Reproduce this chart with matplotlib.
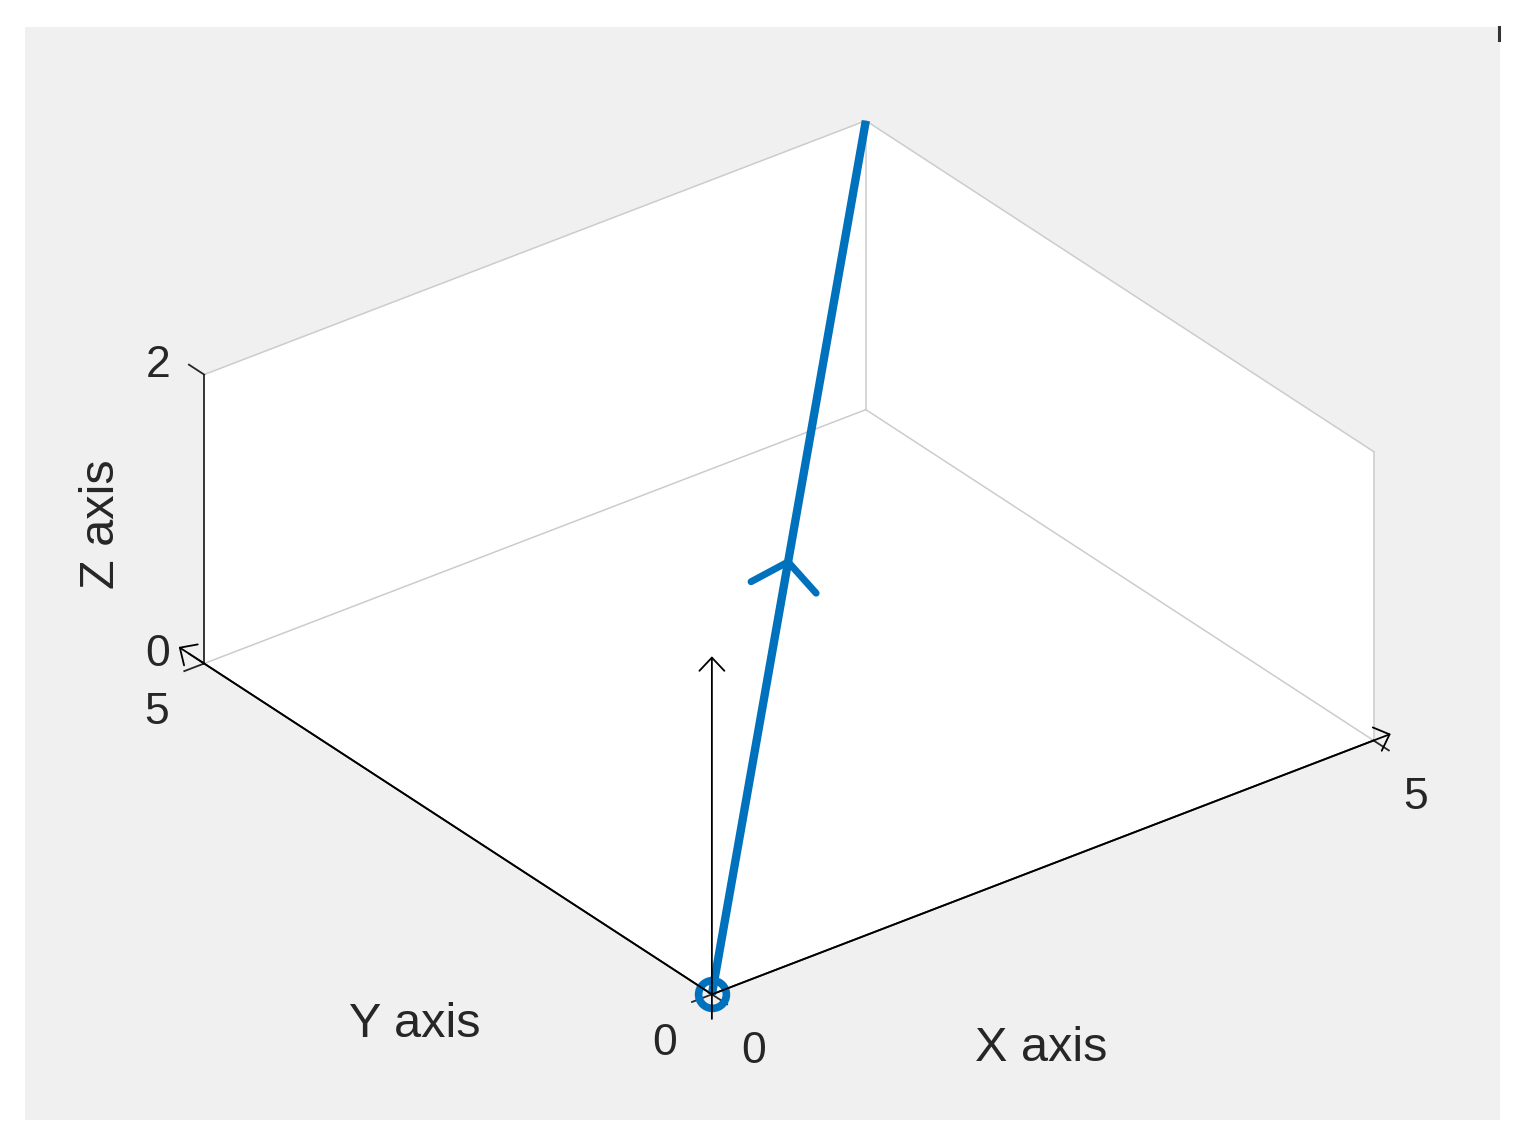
import numpy as np
import matplotlib
matplotlib.use('Agg')
import matplotlib.pyplot as plt
from matplotlib.patches import FancyArrowPatch, Rectangle
from matplotlib.lines import Line2D
from mpl_toolkits.mplot3d import proj3d
from mpl_toolkits.mplot3d.art3d import Poly3DCollection

plt.rcParams['font.family'] = ['Liberation Sans', 'DejaVu Sans']

# ---- data ----
vec = [5, 5, 2]                 # blue vector drawn from the origin
x_lim = [0, 5]
y_lim = [0, 5]
z_lim = [0, 2]
x_ticks = [0, 5]
y_ticks = [0, 5]
z_ticks = [0, 2]
x_arrow = [0, 5.13]             # black coordinate arrows
y_arrow = [0, 5.25]
z_arrow = [-0.17, 2.34]

blue = '#0072BD'
dark = '#262626'
box_gray = '#cccccc'
tick_len = 0.15


class Arrow3D(FancyArrowPatch):
    def __init__(self, xs, ys, zs, *args, **kwargs):
        super().__init__((0, 0), (0, 0), *args, **kwargs)
        self._verts3d = xs, ys, zs

    def do_3d_projection(self, renderer=None):
        xs3d, ys3d, zs3d = self._verts3d
        xs, ys, zs = proj3d.proj_transform(xs3d, ys3d, zs3d, self.axes.M)
        self.set_positions((xs[0], ys[0]), (xs[1], ys[1]))
        return np.min(zs)


W, H = 1529, 1145
fig = plt.figure(figsize=(W / 100, H / 100), dpi=100, facecolor='white')
fig.add_artist(Rectangle((25 / W, 25 / H), 1475 / W, 1093 / H,
                         transform=fig.transFigure, facecolor='#f0f0f0',
                         edgecolor='none', zorder=-10))
fig.add_artist(Line2D([1498.5 / W, 1498.5 / W], [(H - 27) / H, (H - 40) / H],
                      transform=fig.transFigure, color='#333333', lw=2.2))

S = 1100
ax = fig.add_axes([224 / W, 22.6 / H, S / W, S / H], projection='3d',
                  proj_type='ortho', computed_zorder=False)
ax.view_init(elev=30, azim=-127.5)
ax.set_box_aspect((5, 5, 2), zoom=1.0818)
ax.set_axis_off()
ax.set_facecolor('none')
# the built-in 3D axes texts are not used
for t in [ax.title, ax._left_title, ax._right_title]:
    t.set_visible(False)
for a in [ax.xaxis, ax.yaxis, ax.zaxis]:
    a.label.set_visible(False)
    a.offsetText.set_visible(False)

x0, x1 = x_lim
y0, y1 = y_lim
z0, z1 = z_lim

# white back panes
panes = [
    [(x0, y1, z0), (x1, y1, z0), (x1, y1, z1), (x0, y1, z1)],
    [(x1, y0, z0), (x1, y1, z0), (x1, y1, z1), (x1, y0, z1)],
    [(x0, y0, z0), (x1, y0, z0), (x1, y1, z0), (x0, y1, z0)],
]
pc = Poly3DCollection(panes, facecolor='white', edgecolor='none', zorder=0)
pc.set_clip_on(False)
ax.add_collection3d(pc)

# light box edges
edges = [
    ((x0, x1), (y1, y1), (z1, z1)),
    ((x1, x1), (y0, y1), (z1, z1)),
    ((x1, x1), (y1, y1), (z0, z1)),
    ((x1, x1), (y0, y0), (z0, z1)),
    ((x0, x1), (y1, y1), (z0, z0)),
    ((x1, x1), (y0, y1), (z0, z0)),
]
for ex, ey, ez in edges:
    ax.plot(ex, ey, ez, color=box_gray, lw=1.1, zorder=1, clip_on=False)

# rulers
ax.plot([x0, x1], [y0, y0], [z0, z0], color=dark, lw=1.3, zorder=2, clip_on=False)
ax.plot([x0, x0], [y0, y1], [z0, z0], color=dark, lw=1.3, zorder=2, clip_on=False)
ax.plot([x0, x0], [y1, y1], [z0, z1], color=dark, lw=1.3, zorder=2, clip_on=False)

# ticks and tick labels
for t in x_ticks:
    ax.plot([t, t], [y0, y0 - tick_len], [z0, z0], color=dark, lw=1.3,
            zorder=2, clip_on=False)
    ax.text(t - 0.03, y0 - 0.45, z0 - 0.18, str(t), fontsize=32, color=dark,
            ha='center', va='center')
for t in y_ticks:
    ax.plot([x0, x0 - tick_len], [t, t], [z0, z0], color=dark, lw=1.3,
            zorder=2, clip_on=False)
    ax.text(x0 - 0.34, t + 0.02, z0 - 0.23, str(t), fontsize=32, color=dark,
            ha='center', va='center')
for t in z_ticks:
    ax.plot([x0, x0], [y1, y1 + tick_len], [t, t], color=dark, lw=1.3,
            zorder=2, clip_on=False)
    ax.text(x0 - 0.12, y1 + 0.3, t - 0.03, str(t), fontsize=32, color=dark,
            ha='center', va='center')

# axis labels
ax.text(1.72, -1.0, -0.52, 'X axis', fontsize=35, color=dark, ha='center', va='center')
ax.text(-1.0, 1.62, -0.6, 'Y axis', fontsize=35, color=dark, ha='center', va='center')
ax.text(0, 6.01, 0.5, 'Z axis', zdir='z', fontsize=35, color=dark, ha='center', va='center')

# blue vector, origin marker and mid-point arrow head
ax.plot([0, vec[0]], [0, vec[1]], [0, vec[2]], color=blue, lw=6,
        solid_capstyle='butt', zorder=3, clip_on=False)
ax.plot([0], [0], [0], marker='o', ms=20, mfc='none', mec=blue, mew=5.5,
        zorder=3, clip_on=False)
mid_a = [0.4 * v for v in vec]
mid_b = [0.5 * v for v in vec]
ax.add_artist(Arrow3D([mid_a[0], mid_b[0]], [mid_a[1], mid_b[1]], [mid_a[2], mid_b[2]],
                      arrowstyle='->,head_length=18.7,head_width=23.8',
                      mutation_scale=1, lw=5, color=blue, shrinkA=0, shrinkB=0,
                      capstyle='round', zorder=3, clip_on=False))

# black coordinate arrows
head = '->,head_length=9.5,head_width=9'
for xs, ys, zs in [(x_arrow, [0, 0], [0, 0]),
                   ([0, 0], y_arrow, [0, 0]),
                   ([0, 0], [0, 0], z_arrow)]:
    ax.add_artist(Arrow3D(xs, ys, zs, arrowstyle=head, mutation_scale=1,
                          lw=1.3, color='black', shrinkA=0, shrinkB=0,
                          zorder=4, clip_on=False))

ax.set_xlim(x_lim)
ax.set_ylim(y_lim)
ax.set_zlim(z_lim)

fig.savefig('out.png', dpi=100)
